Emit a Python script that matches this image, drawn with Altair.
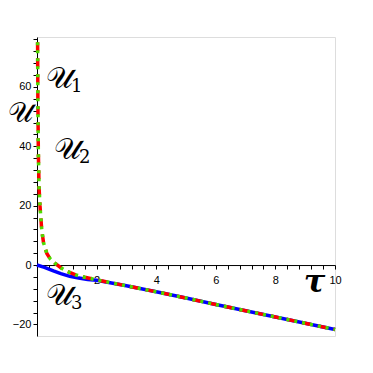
import altair as alt
import pandas as pd

# ---- data ----
tau_12 = [0.02, 0.03, 0.045, 0.07, 0.1, 0.16, 0.22, 0.33, 0.45, 0.6, 0.8, 1.0,
          1.3, 1.6, 2.0, 3.0, 4.0, 5.0, 6.0, 7.0, 8.0, 9.0, 10.0]
u_1 = [75, 55, 38, 26, 20, 11.7, 7.5, 3.9, 2.0, 0.6, -0.9, -2.1,
       -3.3, -4.1, -5.0, -7.0, -9.0, -11.1, -13.3, -15.4, -17.5, -19.6, -21.7]
u_2 = [75, 55, 38, 26, 20, 11.7, 7.5, 3.9, 2.0, 0.6, -0.9, -2.1,
       -3.3, -4.1, -5.0, -7.0, -9.0, -11.1, -13.3, -15.4, -17.5, -19.6, -21.7]
tau_3 = [0.0, 0.25, 0.55, 0.8, 1.1, 1.4, 1.7, 2.0, 3.0, 4.0, 5.0, 6.0, 7.0,
         8.0, 9.0, 10.0]
u_3 = [0.0, -0.8, -2.0, -2.9, -3.8, -4.4, -4.9, -5.1, -7.0, -9.0, -11.1,
       -13.3, -15.4, -17.5, -19.6, -21.7]

ann_tau = [0.3, 0.57, 0.3]
ann_u = [62.8, 38.6, -10.5]
ann_sub = ["1", "2", "3"]

x_ticks = [round(0.4 * i, 1) for i in range(1, 26)]
y_ticks = list(range(-20, 77, 4))

W, H = 298, 299
Y_DOM = [-23.9, 76.8]
x_offset = -(H - H * (Y_DOM[1] - 0) / (Y_DOM[1] - Y_DOM[0]))

df1 = pd.DataFrame({"tau": tau_12, "u": u_1})
df2 = pd.DataFrame({"tau": tau_12, "u": u_2})
df3 = pd.DataFrame({"tau": tau_3, "u": u_3})
dfa = pd.DataFrame({"tau": ann_tau, "u": ann_u, "sub": ann_sub, "main": ["𝒰"] * 3})

x_axis = alt.Axis(
    values=x_ticks,
    labelExpr="(abs(datum.value - round(datum.value / 2) * 2) < 0.01 && datum.value > 0) ? format(datum.value, 'd') : ''",
    tickSize=4, tickColor="black", domainColor="black", tickWidth=1, domainWidth=1,
    labelFont="Liberation Sans", labelFontSize=11, labelColor="black", labelPadding=5,
    labelFlush=False, labelOverlap=False, grid=False,
    title="τ", titleFont="DejaVu Serif", titleFontStyle="italic", titleFontWeight="bold",
    titleFontSize=32, titleX=277, titleY=16, titleAlign="center", titleBaseline="middle",
    titleColor="black", offset=x_offset,
)
y_axis = alt.Axis(
    values=y_ticks,
    labelExpr="(datum.value % 20 == 0) ? format(datum.value, 'd') : ''",
    tickSize=4, tickColor="black", domainColor="black", tickWidth=1, domainWidth=1,
    labelFont="Liberation Sans", labelFontSize=11, labelColor="black", labelPadding=2,
    labelFlush=False, labelOverlap=False, grid=False,
    title="𝒰", titleFont="DejaVu Serif", titleFontStyle="normal", titleFontWeight="normal",
    titleFontSize=28, titleAngle=0, titleX=-17, titleY=76, titleAlign="center",
    titleBaseline="middle", titleColor="black",
)

X = alt.X("tau:Q", scale=alt.Scale(domain=[0, 10], nice=False, zero=False), axis=x_axis)
Y = alt.Y("u:Q", scale=alt.Scale(domain=Y_DOM, nice=False, zero=False), axis=y_axis)

blue = alt.Chart(df3).mark_line(color="#0000ff", strokeWidth=3.5).encode(x=X, y=Y)
red = alt.Chart(df1).mark_line(color="#ff0000", strokeWidth=3.5, strokeDash=[9, 7]).encode(x=X, y=Y)
green = alt.Chart(df2).mark_line(color="#4cdc00", strokeWidth=3.5, strokeDash=[3, 5],
                                 strokeDashOffset=-8).encode(x=X, y=Y)

ann_main = alt.Chart(dfa).mark_text(
    font="DejaVu Serif", fontSize=30, align="left", baseline="middle",
    color="black"
).encode(x=X, y=Y, text="main:N")
ann_sub_t = alt.Chart(dfa).mark_text(
    font="DejaVu Serif", fontSize=18, align="left", baseline="middle", color="black",
    dx=25, dy=8
).encode(x=X, y=Y, text="sub:N")

chart = alt.layer(blue, red, green, ann_main, ann_sub_t).properties(
    width=W, height=H,
    autosize=alt.AutoSizeParams(type="none"),
    padding={"left": 29, "top": 29, "right": 10, "bottom": 10},
).configure_view(stroke=None).configure(background="white")

chart.save("out.html", embed_options={"renderer": "svg", "actions": False})
